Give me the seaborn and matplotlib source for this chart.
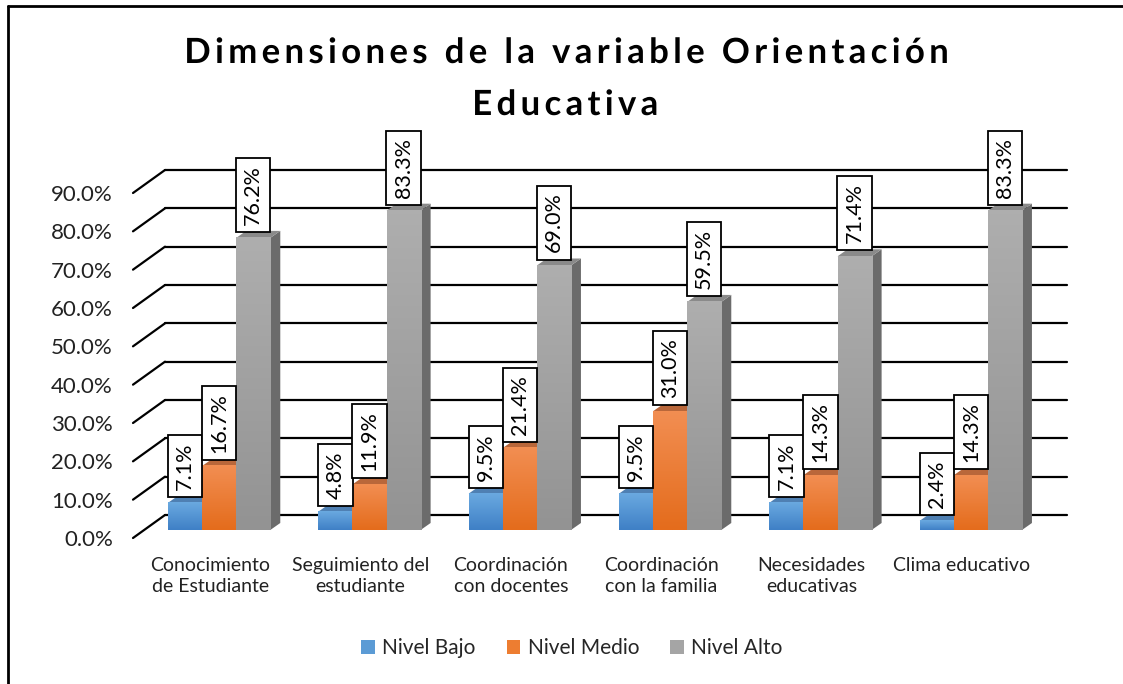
import numpy as np
import matplotlib
matplotlib.use('Agg')
import matplotlib.pyplot as plt
import matplotlib.patheffects as pe
from matplotlib.patches import Polygon, Patch
from matplotlib.lines import Line2D
from matplotlib.colors import LinearSegmentedColormap
from matplotlib.ticker import FuncFormatter
import pandas as pd
import seaborn as sns

# datos del grafico
categorias = ['Conocimiento\nde Estudiante', 'Seguimiento del\nestudiante',
              'Coordinación\ncon docentes', 'Coordinación\ncon la familia',
              'Necesidades\neducativas', 'Clima educativo']
niveles = ['Nivel Bajo', 'Nivel Medio', 'Nivel Alto']
nivel_bajo = [0.071, 0.048, 0.095, 0.095, 0.071, 0.024]
nivel_medio = [0.167, 0.119, 0.214, 0.310, 0.143, 0.143]
nivel_alto = [0.762, 0.833, 0.690, 0.595, 0.714, 0.833]
ticks_y = [0.0, 0.1, 0.2, 0.3, 0.4, 0.5, 0.6, 0.7, 0.8, 0.9]

colores = ['#5B9BD5', '#ED7D31', '#A5A5A5']
# degradado de la cara frontal (arriba, abajo)
degradados = [('#6AA9E0', '#3F80C6'), ('#F28E52', '#E46C1C'), ('#AEAEAE', '#939393')]
lados = ['#3F6F9E', '#B05A22', '#6B6B6B']
techos = ['#4F80B3', '#B9673A', '#8A8A8A']

sns.set_theme(style='white')
plt.rcParams['font.family'] = ['Lato', 'DejaVu Sans']

df = pd.DataFrame({
    'Dimension': categorias * 3,
    'Nivel': [n for n in niveles for _ in categorias],
    'Porcentaje': nivel_bajo + nivel_medio + nivel_alto,
})

W, H = 1123, 684
fig = plt.figure(figsize=(W / 100, H / 100), dpi=100)
ax = fig.add_axes([135 / W, 146 / H, 902 / W, 345 / H])
sns.barplot(data=df, x='Dimension', y='Porcentaje', hue='Nivel', palette=colores,
            width=0.68, saturation=1, ax=ax, legend=False, errorbar=None)
for s in ax.spines.values():
    s.set_visible(False)
ax.set_xlabel('')
ax.set_ylabel('')
ax.set_yticks(ticks_y)
ax.yaxis.set_major_formatter(FuncFormatter(lambda v, p: '{:.1%}'.format(v)))
ax.tick_params(axis='y', length=0, pad=16, labelsize=16, labelcolor='#222222')
ax.tick_params(axis='x', length=0, pad=14, labelsize=14, labelcolor='#222222')
for t in ax.get_xticklabels():
    t.set_linespacing(1.25)

# pixeles -> unidades de datos
px = 6 / 902
py = 0.9 / 345

# pared del fondo con lineas en perspectiva
for v in ticks_y:
    ax.plot([-0.5 + 30 * px, 5.5 + 30 * px], [v + 23 * py, v + 23 * py],
            color='black', lw=1.6, zorder=1, clip_on=False)
    ax.plot([-0.5 - 2 * px, -0.5 + 30 * px], [v, v + 23 * py],
            color='black', lw=1.6, zorder=1, clip_on=False)

# barras en 3D
barras = sorted(list(ax.patches), key=lambda b: b.get_x())
for i, b in enumerate(barras):
    h = b.get_height()
    k = i % 3
    x0 = b.get_x() + 9 * px
    x1 = x0 + b.get_width()
    y0 = 8 * py
    y1 = y0 + h
    b.set_x(x0)
    b.set_y(y0)
    b.set_edgecolor('none')
    z = 3 + i * 0.01
    b.set_zorder(z)
    cmap = LinearSegmentedColormap.from_list('g%d' % k, [degradados[k][1], degradados[k][0]])
    ax.imshow(np.linspace(0, 1, 64).reshape(-1, 1), cmap=cmap, origin='lower',
              extent=[x0, x1, y0, y1], aspect='auto', zorder=z + 0.001, interpolation='bilinear')
    ddx, ddy = 10 * px, 7 * py
    ax.add_patch(Polygon([(x1, y0), (x1 + ddx, y0 + ddy), (x1 + ddx, y1 + ddy), (x1, y1)],
                         closed=True, fc=lados[k], ec='none', zorder=z - 0.005))
    ax.add_patch(Polygon([(x0, y1), (x1, y1), (x1 + ddx, y1 + ddy), (x0 + ddx, y1 + ddy)],
                         closed=True, fc=techos[k], ec='none', zorder=z))
    ax.text((x0 + x1) / 2, y1 + 13 * py, '{:.1%}'.format(h), rotation=90,
            ha='center', va='bottom', fontsize=15.5, color='black', zorder=5,
            bbox=dict(boxstyle='square,pad=0.33', fc='white', ec='black', lw=1.3))

ax.set_xlim(-0.5, 5.5)
ax.set_ylim(0, 0.9)

# titulo con sombra (letras espaciadas)
espacio = '\u200a\u200a'
sombra = [pe.SimpleLineShadow(offset=(2, -2), alpha=0.4), pe.Normal()]
for texto, yy in [('Dimensiones de la variable Orientación', 53), ('Educativa', 105)]:
    fig.text(565 / W, 1 - yy / H, espacio.join(texto), ha='center', va='center',
             fontsize=25, fontweight='bold', family=['Lato', 'DejaVu Sans'], color='black',
             path_effects=sombra)

# leyenda
manejadores = [Patch(facecolor=c, edgecolor='none', label=n) for c, n in zip(colores, niveles)]
fig.legend(handles=manejadores, loc='center', bbox_to_anchor=(572 / W, 1 - 648 / H), ncol=3,
           frameon=False, fontsize=15, handlelength=0.65, handleheight=0.65,
           handletextpad=0.35, columnspacing=1.5)

# marco
fig.add_artist(Line2D([8 / W, 8 / W], [0, 1 - 6 / H], transform=fig.transFigure, color='black', lw=2))
fig.add_artist(Line2D([8 / W, 1], [1 - 6 / H, 1 - 6 / H], transform=fig.transFigure, color='black', lw=2))

fig.savefig('out.png', dpi=100)
